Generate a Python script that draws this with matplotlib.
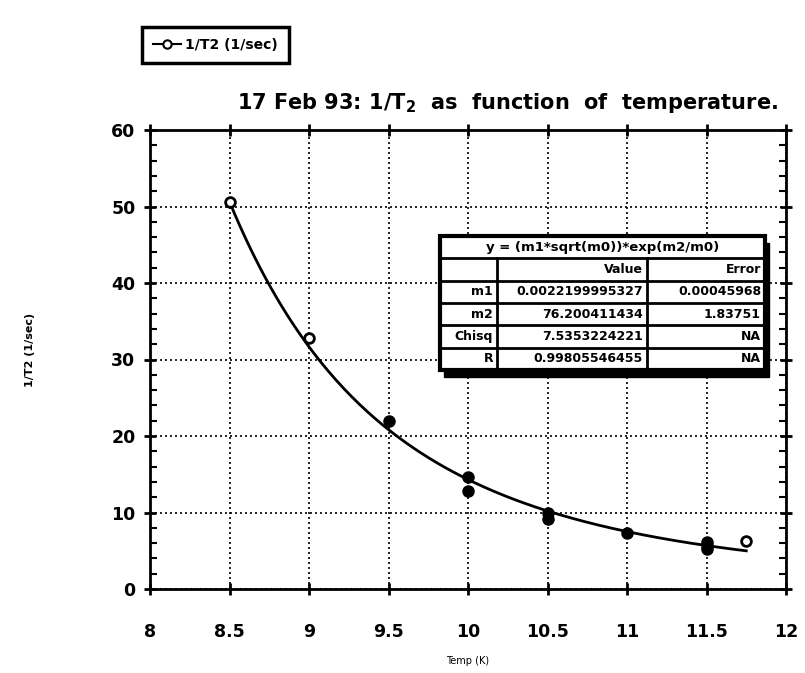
import numpy as np
import matplotlib
matplotlib.use("Agg")
import matplotlib.pyplot as plt
from matplotlib.lines import Line2D
from matplotlib.patches import Rectangle

plt.rcParams["font.family"] = "DejaVu Sans"
plt.rcParams["font.weight"] = "bold"

temp_open = [8.5, 9.0, 11.75]
rate_open = [50.6, 32.8, 6.3]
temp_fill = [9.5, 10.0, 10.0, 10.5, 10.5, 11.0, 11.5, 11.5, 11.5]
rate_fill = [22.0, 14.6, 12.8, 9.9, 9.2, 7.3, 6.1, 5.6, 5.2]

# fit y = (m1*sqrt(m0))*exp(m2/m0)
m1, m2 = 0.0022199995327, 76.200411434
fit_range = (8.5, 11.75)

table_title = "y = (m1*sqrt(m0))*exp(m2/m0)"
table_cols = ["", "Value", "Error"]
table_rows = ["m1", "m2", "Chisq", "R"]
table_vals = ["0.0022199995327", "76.200411434", "7.5353224221", "0.99805546455"]
table_errs = ["0.00045968", "1.83751", "NA", "NA"]

W, H = 805, 673
fig = plt.figure(figsize=(W / 100, H / 100), dpi=100)
ax = fig.add_axes([150 / W, 1 - 589 / H, (786 - 150) / W, (589 - 130) / H])

t = np.linspace(*fit_range, 200)
ax.plot(t, m1 * np.sqrt(t) * np.exp(m2 / t), color="black", lw=2)
ax.plot(temp_open, rate_open, "o", ms=7, mfc="white", mec="black", mew=2)
ax.plot(temp_fill, rate_fill, "o", ms=8, mfc="black", mec="black")

ax.set_xlim(8, 12)
ax.set_ylim(0, 60)
ax.set_xticks(np.arange(8, 12.01, 0.5))
ax.set_xticklabels(["8", "8.5", "9", "9.5", "10", "10.5", "11", "11.5", "12"])
ax.set_yticks(np.arange(0, 61, 10))
ax.set_yticks(np.arange(0, 61, 2), minor=True)
ax.grid(True, which="major", color="black", ls=(0, (1.2, 1.8)), lw=1.2)
ax.tick_params(which="major", direction="inout", length=9, width=2,
               top=True, right=True, labelsize=12.5)
ax.tick_params(axis="x", which="major", pad=20)
ax.tick_params(axis="y", which="major", pad=6)
ax.tick_params(which="minor", direction="in", length=5, width=1.5,
               right=True, left=True)
for s in ax.spines.values():
    s.set_linewidth(2)

ax.set_xlabel("Temp (K)", fontsize=7, labelpad=11)
fig.text(30 / W, 1 - 350 / H, "1/T2 (1/sec)", rotation=90, fontsize=8,
         ha="center", va="center")
fig.text(507 / W, 1 - 103 / H,
         "17 Feb 93: 1/T$_{\\mathbf{2}}$  as  function  of  temperature.",
         fontsize=15, ha="center", va="center")

# legend
handle = Line2D([], [], color="black", lw=1.5, marker="o", ms=6, mfc="white",
                mec="black", mew=1.5)
leg = fig.legend([handle], ["1/T2 (1/sec)"], loc="upper left",
                 bbox_to_anchor=(142 / W, 1 - 27 / H), fontsize=10,
                 frameon=True, fancybox=False, framealpha=1,
                 handlelength=2.0, handletextpad=0.3, borderpad=0.8,
                 borderaxespad=0)
leg.get_frame().set_edgecolor("black")
leg.get_frame().set_linewidth(2.5)

# fit results table
def fx(x):
    return x / W

def fy(y):
    return 1 - y / H

tl, tr, ttop, tbot = 440, 765, 236, 370
col_edges = [tl, 497, 647, tr]
nrow = 6
rh = (tbot - ttop) / nrow
fig.patches.append(Rectangle((fx(tl + 4), fy(tbot + 7)), (tr - tl) / W,
                             (tbot - ttop) / H, transform=fig.transFigure,
                             facecolor="black", edgecolor="black", zorder=5))
fig.patches.append(Rectangle((fx(tl), fy(tbot)), (tr - tl) / W,
                             (tbot - ttop) / H, transform=fig.transFigure,
                             facecolor="white", edgecolor="black", lw=3,
                             zorder=6))
for i in range(1, nrow):
    y = ttop + i * rh
    fig.add_artist(Line2D([fx(tl), fx(tr)], [fy(y), fy(y)], color="black",
                          lw=2, transform=fig.transFigure, zorder=7))
for x in col_edges[1:-1]:
    fig.add_artist(Line2D([fx(x), fx(x)], [fy(ttop + rh), fy(tbot)],
                          color="black", lw=2, transform=fig.transFigure,
                          zorder=7))
fig.text(fx((tl + tr) / 2), fy(ttop + rh / 2), table_title, fontsize=9.5,
         ha="center", va="center", zorder=8)
rows = [table_cols] + [[r, v, e] for r, v, e in
                       zip(table_rows, table_vals, table_errs)]
for i, row in enumerate(rows):
    yc = ttop + (i + 1.5) * rh
    for j, txt in enumerate(row):
        fig.text(fx(col_edges[j + 1] - 4), fy(yc), txt, fontsize=9,
                 ha="right", va="center", zorder=8)

fig.savefig("out.png", dpi=100)
